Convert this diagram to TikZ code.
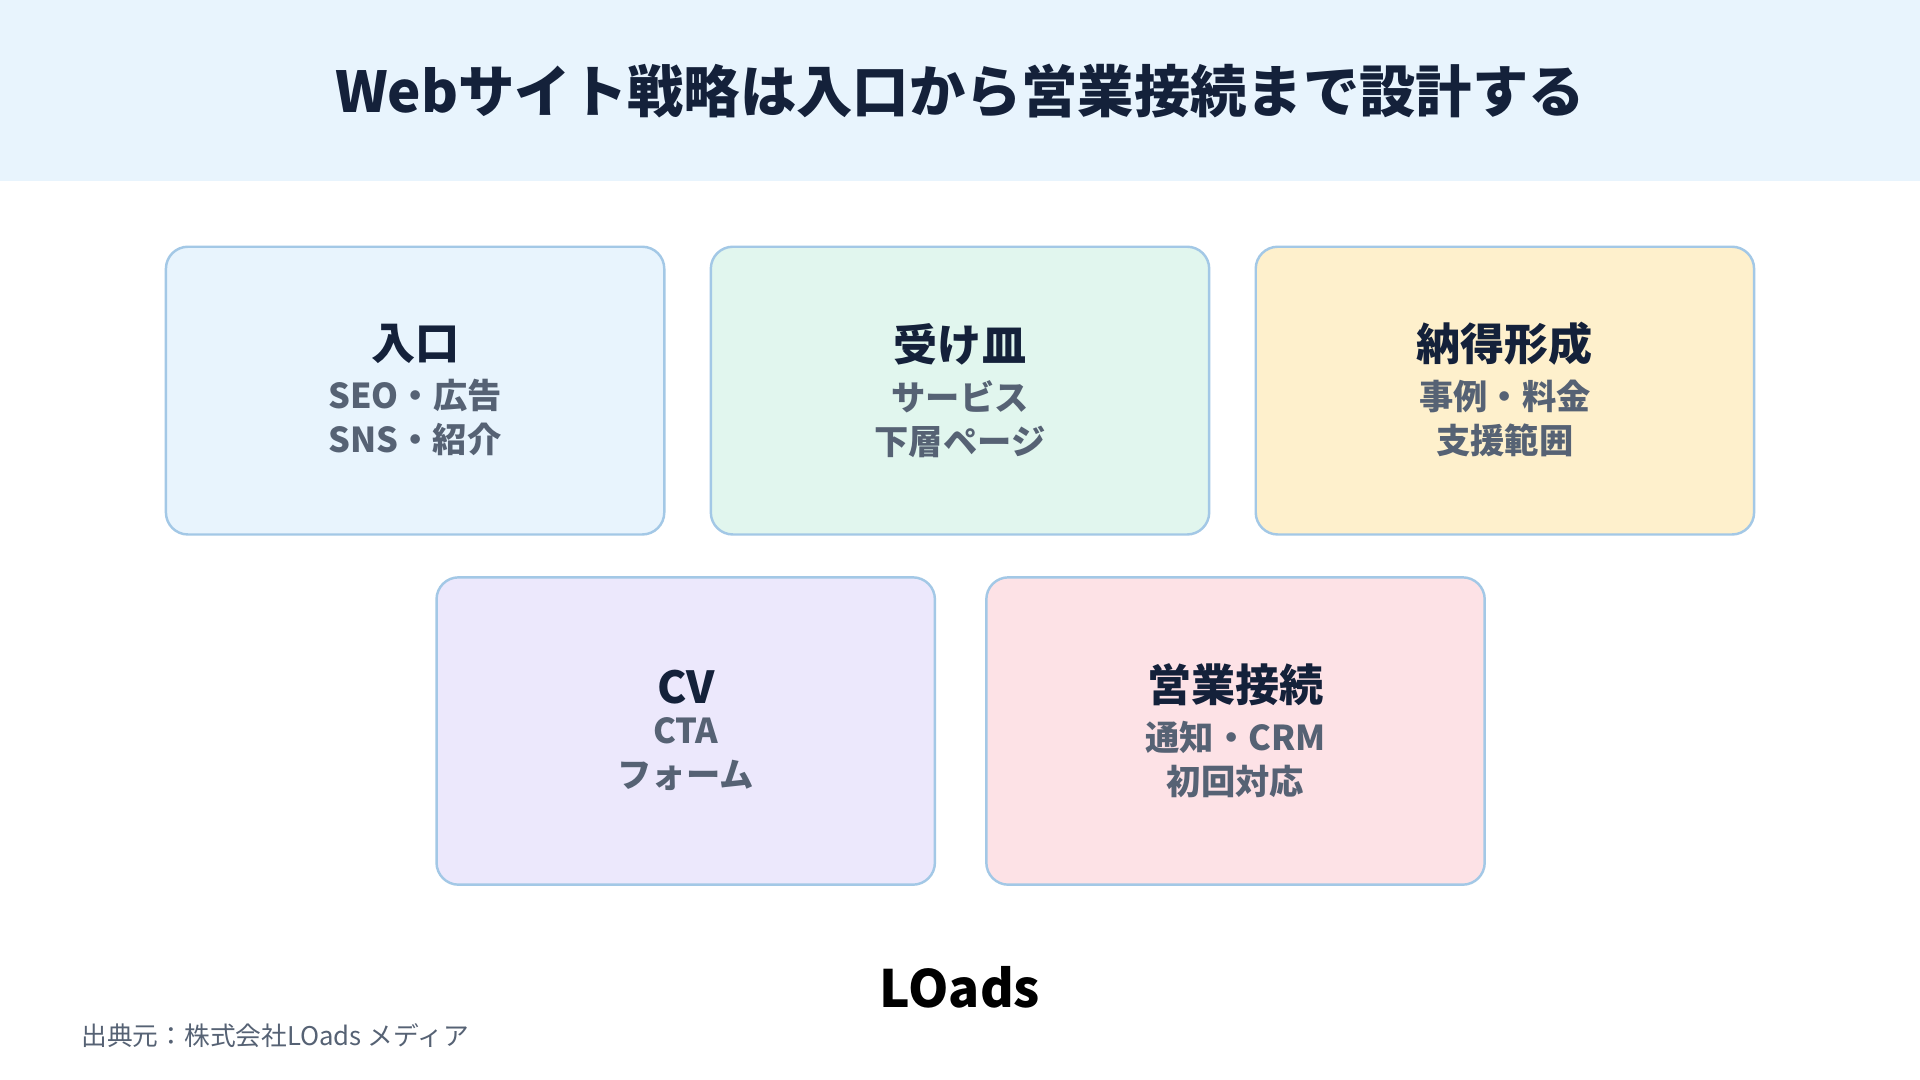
\documentclass[tikz,border=0pt]{standalone}
\usepackage{fontspec}
\setmainfont{Noto Sans CJK JP}
\definecolor{navy}{HTML}{14213A}
\definecolor{sub}{HTML}{566274}
\definecolor{band}{HTML}{E8F4FD}
\definecolor{bord}{HTML}{A3C8E6}
\definecolor{cA}{HTML}{E8F4FD}
\definecolor{cB}{HTML}{E1F6EE}
\definecolor{cC}{HTML}{FEF0CC}
\definecolor{cD}{HTML}{ECE8FC}
\definecolor{cE}{HTML}{FDE2E6}
\tikzset{
 box/.style={draw=bord,line width=2pt,rounded corners=18pt,minimum width=407pt,inner sep=0pt},
 ttl/.style={font=\fontsize{36}{40}\selectfont\bfseries,text=navy},
 sb/.style={font=\fontsize{28}{36}\selectfont\bfseries,text=sub,align=center}
}
\begin{document}
\begin{tikzpicture}[x=1pt,y=-1pt]
\useasboundingbox (0,0) rectangle (1568,882);
\fill[white] (0,0) rectangle (1568,882);
\fill[band] (0,0) rectangle (1568,148);
\node[font=\fontsize{46}{50}\selectfont\bfseries,text=navy] (title) at (784,74) {Webサイト戦略は入口から営業接続まで設計する};
\node[box,fill=cA,minimum height=235pt] (b1) at (339,319) {};
\node[box,fill=cB,minimum height=235pt] (b2) at (784,319) {};
\node[box,fill=cC,minimum height=235pt] (b3) at (1229,319) {};
\node[box,fill=cD,minimum height=251pt] (b4) at (560,597) {};
\node[box,fill=cE,minimum height=251pt] (b5) at (1009,597) {};
\node[ttl] (t1) at (339,281) {入口};
\node[sb] (s1) at (339,341) {SEO・広告\\SNS・紹介};
\node[ttl] (t2) at (784,281) {受け皿};
\node[sb] (s2) at (784,342) {サービス\\下層ページ};
\node[ttl] (t3) at (1229,281) {納得形成};
\node[sb] (s3) at (1229,342) {事例・料金\\支援範囲};
\node[ttl] (t4) at (560,561) {CV};
\node[sb] (s4) at (560,616) {CTA\\フォーム};
\node[ttl] (t5) at (1009,559) {営業接続};
\node[sb] (s5) at (1009,620) {通知・CRM\\初回対応};
\node[font=\fontsize{42}{44}\selectfont\bfseries,text=black] (logo) at (784,806) {LOads};
\node[anchor=west,font=\fontsize{21}{24}\selectfont,text=sub] (src) at (63,846) {出典元：株式会社LOads メディア};
\end{tikzpicture}
\end{document}
